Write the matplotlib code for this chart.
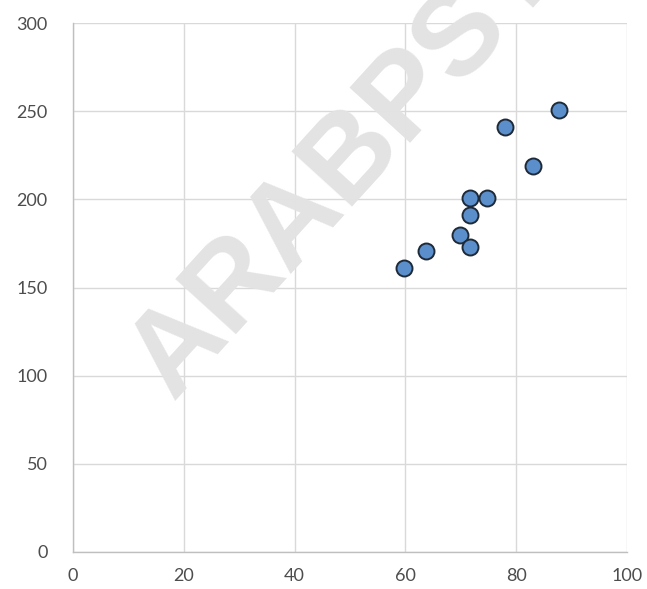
import matplotlib
matplotlib.use("Agg")
import matplotlib.pyplot as plt

# data
x_vals = [59.7, 63.8, 69.9, 71.7, 71.7, 71.7, 74.7, 77.9, 83, 87.7]
y_vals = [161, 171, 180, 173, 191, 201, 201, 241, 219, 251]
x_ticks = [0, 20, 40, 60, 80, 100]
y_ticks = [0, 50, 100, 150, 200, 250, 300]
watermark = "ARABPSY"

plt.rcParams['font.family'] = ['Lato', 'DejaVu Sans']

fig = plt.figure(figsize=(6.47, 5.89), dpi=100)
ax = fig.add_axes([0.1124, 0.0633, 0.857, 0.897])

ax.set_xlim(0, 100)
ax.set_ylim(0, 300)
ax.set_xticks(x_ticks)
ax.set_yticks(y_ticks)
ax.grid(True, color='#d9d9d9', linewidth=1.0)
ax.set_axisbelow(True)

for side in ['top', 'right']:
    ax.spines[side].set_visible(False)
for side in ['bottom', 'left']:
    ax.spines[side].set_color('#bfbfbf')
    ax.spines[side].set_linewidth(1.0)

ax.tick_params(length=0, labelsize=13, colors='#4d4d4d')
ax.tick_params(axis='y', pad=18)
ax.tick_params(axis='x', pad=12)

# watermark
ax.text(0.535, 0.72, watermark, transform=fig.transFigure,
        family='Liberation Sans', fontweight='bold', fontsize=86,
        color='#e3e3e3', rotation=47.7, rotation_mode='anchor',
        ha='center', va='center', clip_on=False, zorder=2)

ax.plot(x_vals, y_vals, linestyle='none', marker='o', markersize=11.5,
        markerfacecolor='#5b8fcb', markeredgecolor='#1e2a38',
        markeredgewidth=1.4, zorder=3)

fig.savefig('out.png', dpi=100)
